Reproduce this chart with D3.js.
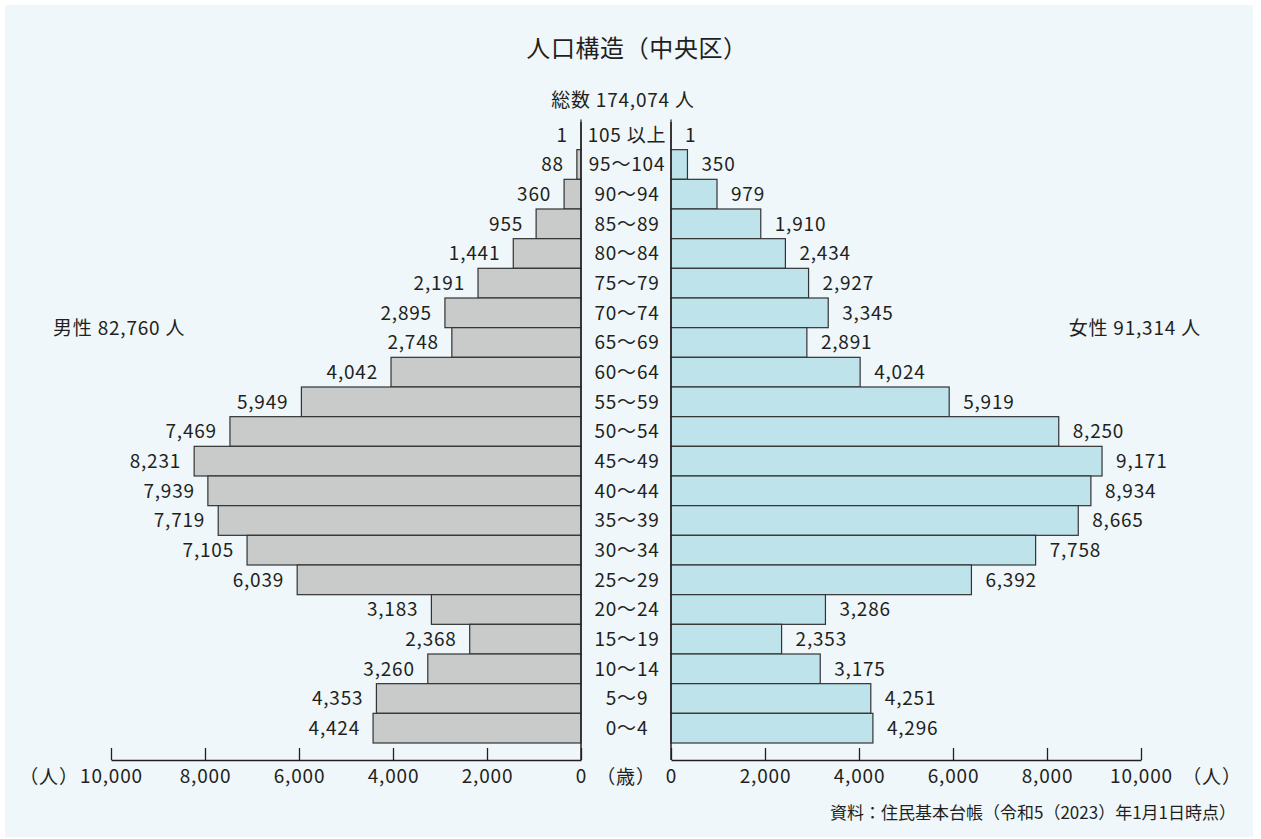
<!DOCTYPE html>
<html lang="ja">
<head>
<meta charset="utf-8">
<script src="https://cdn.jsdelivr.net/npm/d3@7"></script>
<style>
  html, body { margin: 0; padding: 0; background: #ffffff; }
  svg { display: block; font-family: "Noto Sans CJK JP", "Noto Sans", sans-serif; }
  .lbl { font-size: 19px; letter-spacing: 0.8px; }
</style>
</head>
<body>
<svg id="chart" width="1261" height="839"></svg>
<script>
// 年齢階級（上から高齢順）
const ageGroups = ["105 以上", "95～104", "90～94", "85～89", "80～84", "75～79", "70～74",
  "65～69", "60～64", "55～59", "50～54", "45～49", "40～44", "35～39", "30～34",
  "25～29", "20～24", "15～19", "10～14", "5～9", "0～4"];
// 男性人口
const malePop = [1, 88, 360, 955, 1441, 2191, 2895, 2748, 4042, 5949, 7469, 8231,
  7939, 7719, 7105, 6039, 3183, 2368, 3260, 4353, 4424];
// 女性人口
const femalePop = [1, 350, 979, 1910, 2434, 2927, 3345, 2891, 4024, 5919, 8250, 9171,
  8934, 8665, 7758, 6392, 3286, 2353, 3175, 4251, 4296];
// 軸目盛
const tickValues = [0, 2000, 4000, 6000, 8000, 10000];

const titleText = "人口構造（中央区）";
const totalText = "総数 174,074 人";
const maleText = "男性 82,760 人";
const femaleText = "女性 91,314 人";
const sourceText = "資料：住民基本台帳（令和5（2023）年1月1日時点）";

const svg = d3.select("#chart");

// 背景パネル
svg.append("rect")
  .attr("x", 5).attr("y", 5).attr("width", 1248).attr("height", 832)
  .attr("fill", "#eff7fa");

const leftZero = 581, rightZero = 671, maxW = 470;
const plotTop = 120, plotBottom = 743, axisY = 760;

const xMale = d3.scaleLinear().domain([0, 10000]).range([leftZero, leftZero - maxW]);
const xFemale = d3.scaleLinear().domain([0, 10000]).range([rightZero, rightZero + maxW]);
const y = d3.scaleBand().domain(ageGroups).range([plotTop, plotBottom]).padding(0);

const textColor = "#231f20";
const lineColor = "#231f20";
const fmt = d3.format(",");

// タイトル
svg.append("text").attr("x", 637).attr("y", 57).attr("text-anchor", "middle")
  .attr("font-size", 24).attr("letter-spacing", 0.6).attr("fill", textColor).text(titleText);
svg.append("text").attr("class", "lbl").attr("x", 623).attr("y", 107).attr("text-anchor", "middle")
  .attr("fill", textColor).text(totalText);
svg.append("text").attr("class", "lbl").attr("x", 53).attr("y", 335).attr("text-anchor", "start")
  .attr("fill", textColor).text(maleText);
svg.append("text").attr("class", "lbl").attr("x", 1201).attr("y", 335).attr("text-anchor", "end")
  .attr("fill", textColor).text(femaleText);

// 男性の棒
svg.append("g").selectAll("rect").data(malePop).join("rect")
  .attr("x", d => xMale(d))
  .attr("y", (d, i) => y(ageGroups[i]))
  .attr("width", d => leftZero - xMale(d))
  .attr("height", y.bandwidth())
  .attr("fill", "#c9caca")
  .attr("stroke", "#333333").attr("stroke-width", 1.2);

// 女性の棒
svg.append("g").selectAll("rect").data(femalePop).join("rect")
  .attr("x", rightZero)
  .attr("y", (d, i) => y(ageGroups[i]))
  .attr("width", d => xFemale(d) - rightZero)
  .attr("height", y.bandwidth())
  .attr("fill", "#bfe3ea")
  .attr("stroke", "#333333").attr("stroke-width", 1.2);

// 中央の縦線
[leftZero, rightZero].forEach(x => {
  svg.append("line").attr("x1", x).attr("x2", x).attr("y1", plotTop + 2).attr("y2", axisY)
    .attr("stroke", lineColor).attr("stroke-width", 1.5);
});

// 年齢ラベル
svg.append("g").selectAll("text").data(ageGroups).join("text")
  .attr("class", "lbl")
  .attr("x", (leftZero + rightZero) / 2 + 1)
  .attr("y", d => y(d) + y.bandwidth() / 2)
  .attr("dy", "0.36em")
  .attr("text-anchor", "middle")
  .attr("fill", textColor)
  .text(d => d);

// 数値ラベル
svg.append("g").selectAll("text").data(malePop).join("text")
  .attr("class", "lbl")
  .attr("x", d => xMale(d) - 13)
  .attr("y", (d, i) => y(ageGroups[i]) + y.bandwidth() / 2)
  .attr("dy", "0.36em").attr("text-anchor", "end")
  .attr("fill", textColor)
  .text(d => fmt(d));
svg.append("g").selectAll("text").data(femalePop).join("text")
  .attr("class", "lbl")
  .attr("x", d => xFemale(d) + 14)
  .attr("y", (d, i) => y(ageGroups[i]) + y.bandwidth() / 2)
  .attr("dy", "0.36em").attr("text-anchor", "start")
  .attr("fill", textColor)
  .text(d => fmt(d));

// 軸
function styleAxis(g) {
  g.selectAll("path.domain").attr("stroke", lineColor).attr("stroke-width", 1.5);
  g.selectAll(".tick line").attr("stroke", lineColor).attr("stroke-width", 1.3);
  g.selectAll(".tick text").attr("class", "lbl").attr("fill", textColor)
    .attr("font-size", null).attr("font-family", null);
}
svg.append("g").attr("transform", `translate(0,${axisY})`)
  .attr("font-size", null).attr("font-family", null)
  .call(d3.axisBottom(xMale).tickValues(tickValues).tickFormat(fmt)
    .tickSize(-12).tickSizeOuter(0).tickPadding(10))
  .call(styleAxis);
svg.append("g").attr("transform", `translate(0,${axisY})`)
  .call(d3.axisBottom(xFemale).tickValues(tickValues).tickFormat(fmt)
    .tickSize(-12).tickSizeOuter(0).tickPadding(10))
  .call(styleAxis);
svg.selectAll("g").filter(function () { return this.getAttribute("fill") === "none"; })
  .attr("font-size", null).attr("font-family", null);

// 単位
svg.append("text").attr("class", "lbl").attr("x", 49).attr("y", 784).attr("text-anchor", "middle")
  .attr("fill", textColor).text("（人）");
svg.append("text").attr("class", "lbl").attr("x", 626).attr("y", 784).attr("text-anchor", "middle")
  .attr("fill", textColor).text("（歳）");
svg.append("text").attr("class", "lbl").attr("x", 1212).attr("y", 784).attr("text-anchor", "middle")
  .attr("fill", textColor).text("（人）");

// 出典
svg.append("text").attr("x", 1236).attr("y", 819).attr("text-anchor", "end")
  .attr("font-size", 17).attr("fill", textColor).text(sourceText);
</script>
</body>
</html>
